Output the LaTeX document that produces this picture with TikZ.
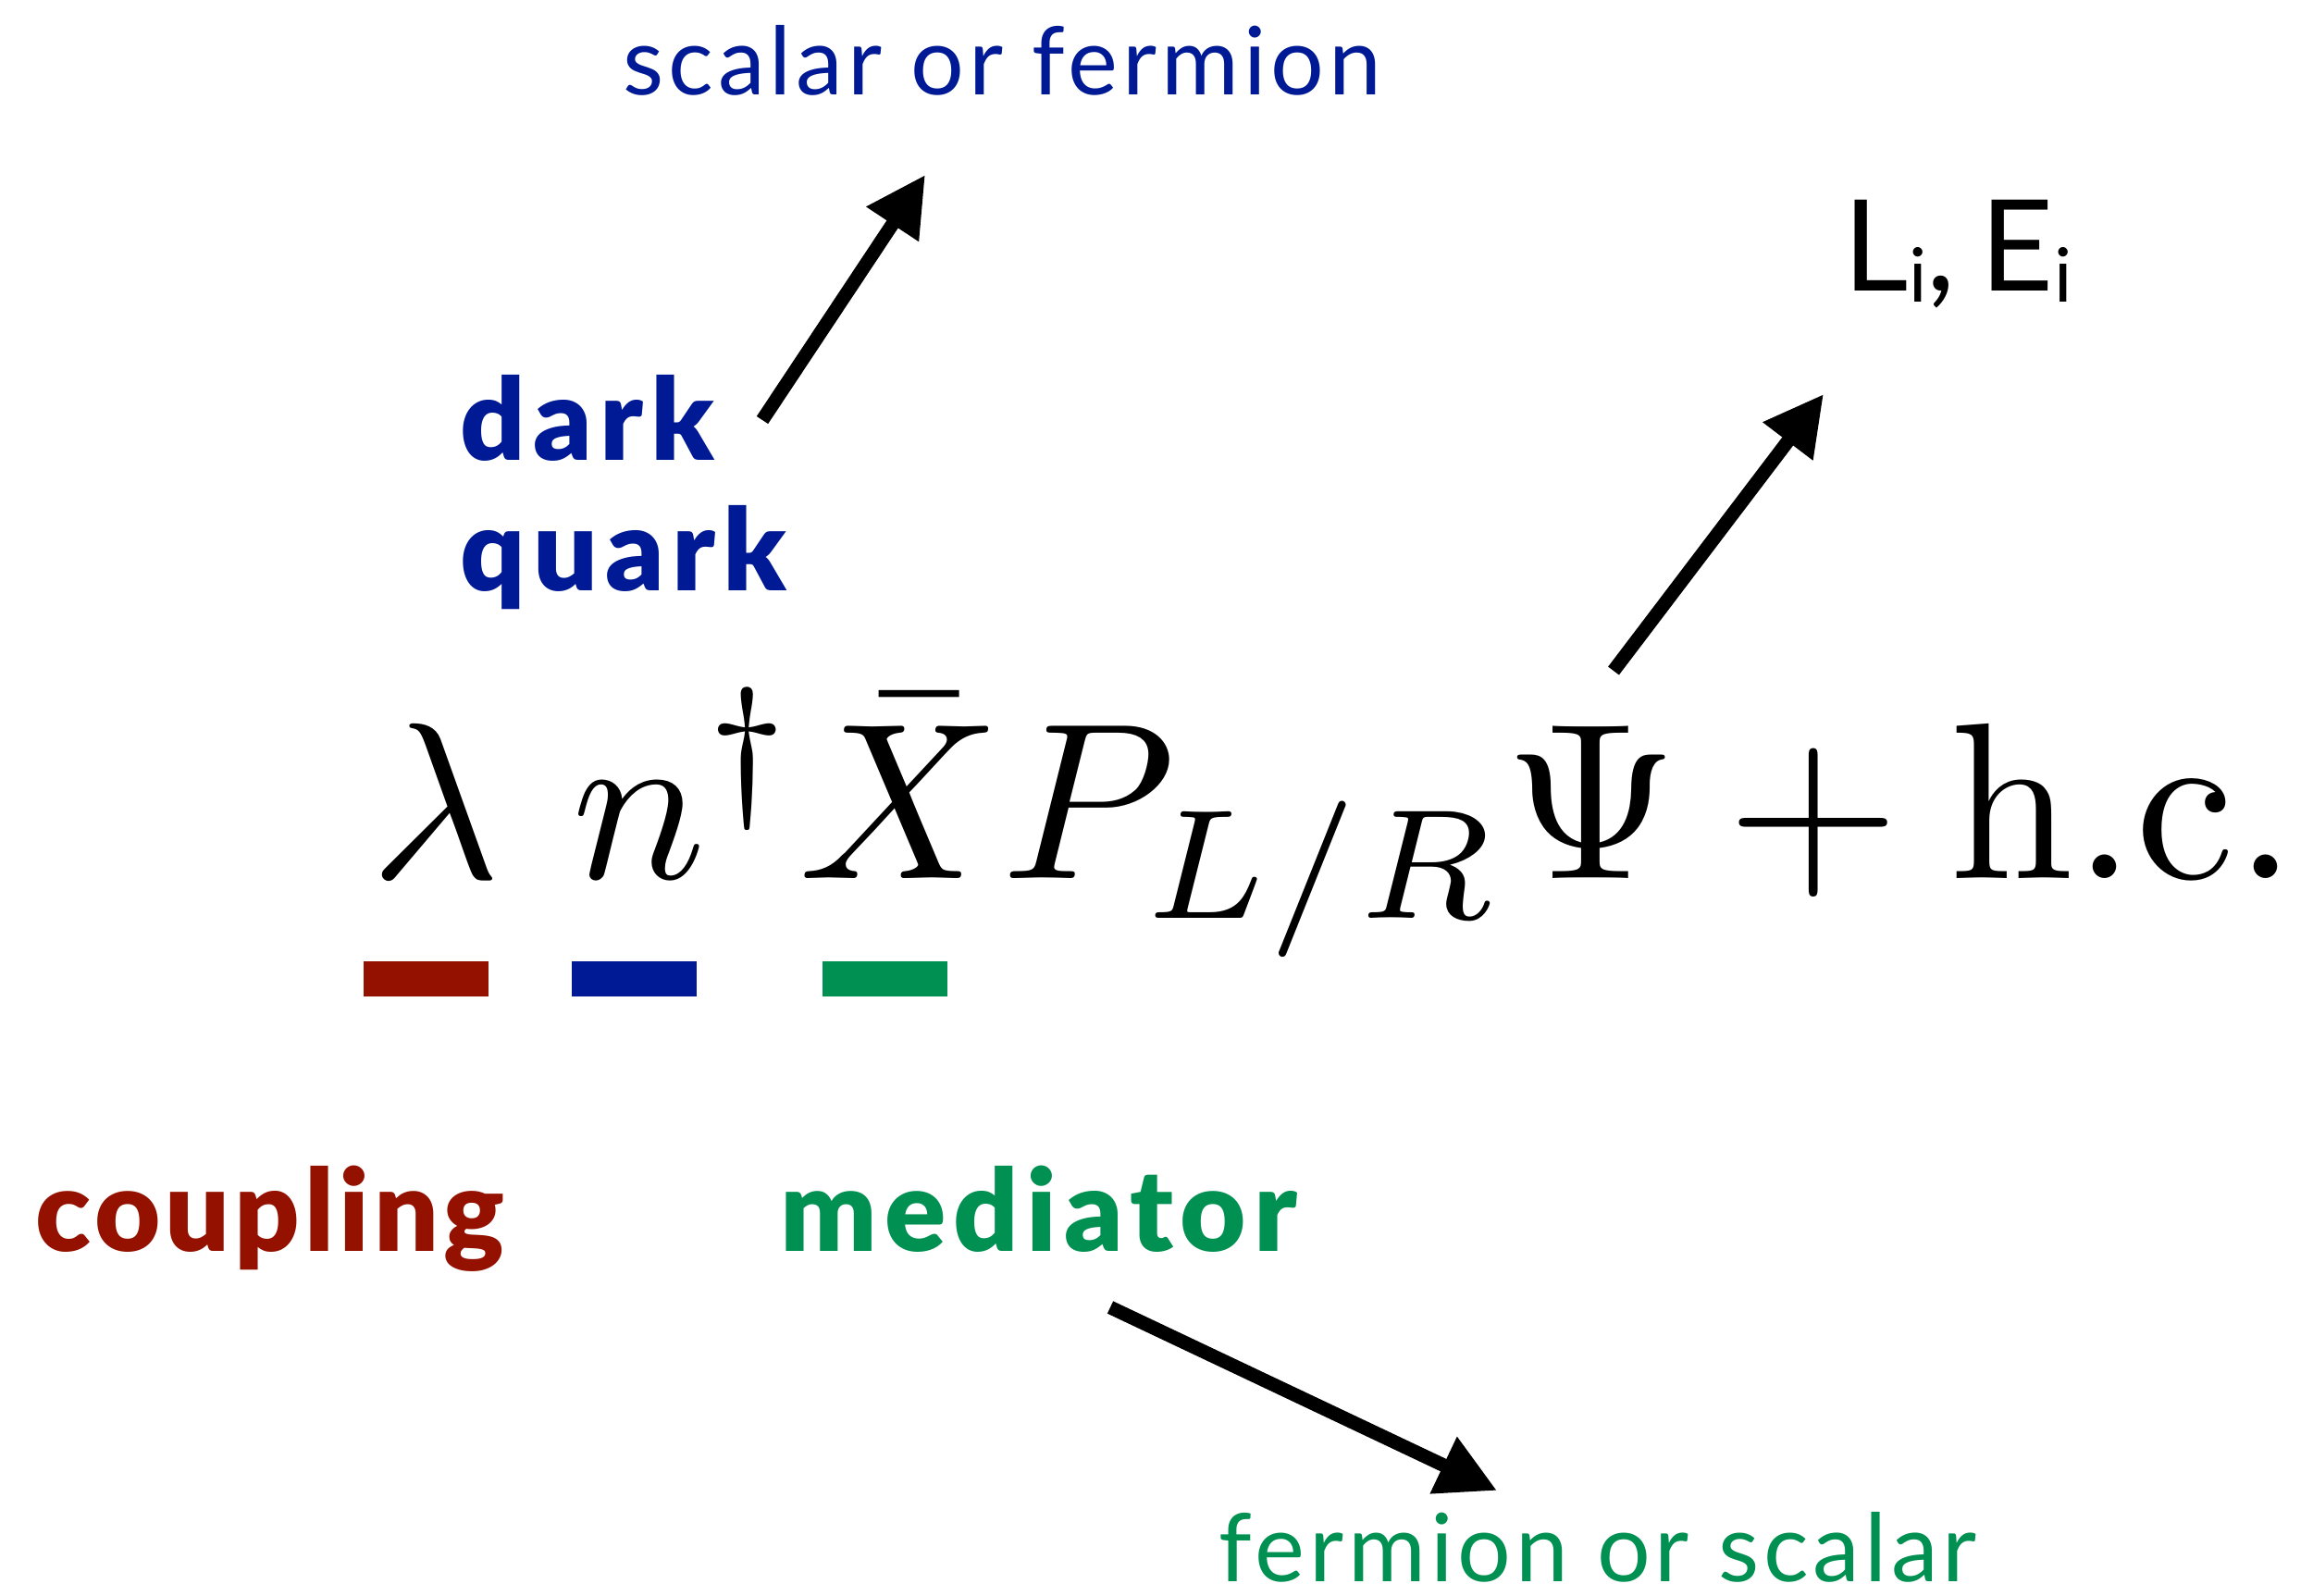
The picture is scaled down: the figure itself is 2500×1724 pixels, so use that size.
\documentclass[tikz,border=0pt]{standalone}
\usepackage[no-math]{fontspec}
\setmainfont{Lato}
\newfontfamily\blackfont{Lato Black}
\usepackage{graphicx}
\usetikzlibrary{arrows.meta}
\definecolor{dblue}{RGB}{0,25,148}
\definecolor{dred}{RGB}{148,17,0}
\definecolor{dgreen}{RGB}{0,144,81}
\tikzset{
  lbl/.style={anchor=base west, inner sep=0pt},
  thin lbl/.style={lbl, text depth=0pt, font=\fontsize{29}{31}\selectfont\addfontfeature{LetterSpace=4.8}},
  bold lbl/.style={lbl, text depth=0pt, font=\fontsize{35}{37}\selectfont\blackfont\addfontfeature{LetterSpace=6.5}},
  bigarrow/.style={line width=4.2pt, -{Triangle[length=0.64cm,width=0.64cm]}},
  bar/.style={inner sep=0pt, minimum width=1.35cm, minimum height=0.38cm, anchor=north west}
}
\begin{document}
\begin{tikzpicture}[x=0.01cm,y=-0.01cm]
\useasboundingbox (0,0) rectangle (2500,1724);
% labels
\node[thin lbl, text=dblue] (sof) at (673,102) {scalar or fermion};
\node[bold lbl, text=dblue] (dark) at (497,497) {dark};
\node[bold lbl, text=dblue] (quark) at (497,638) {quark};
\node[lbl, font=\fontsize{39}{41}\selectfont] (le) at (1992,314)
  {L\raisebox{-0.12cm}{\fontsize{23}{23}\selectfont i},\hspace{0.2em}E\raisebox{-0.12cm}{\fontsize{23}{23}\selectfont i}};
% equation
\node[lbl] (eq) at (400,949) {\resizebox{20.8cm}{!}{$\lambda\mkern5.8mu n^{\dagger}\bar{X}P_{L/R}\Psi+\mathrm{h.c.}$}};
% bars
\node[bar, fill=dred] (barr) at (392,1038) {};
\node[bar, fill=dblue] (barb) at (617,1038) {};
\node[bar, fill=dgreen] (barg) at (888,1038) {};
% lower labels
\node[bold lbl, text=dred, font=\fontsize{35}{37}\selectfont\blackfont\addfontfeature{LetterSpace=4}] (coup) at (38,1352) {coupling};
\node[bold lbl, text=dgreen] (med) at (843,1352) {mediator};
\node[thin lbl, text=dgreen] (fos) at (1317,1709) {fermion or scalar};
% arrow ends
\coordinate (a1s) at (824,454);
\coordinate (a1e) at (1000,189);
\coordinate (a2s) at (1744,725);
\coordinate (a2e) at (1971,426);
\coordinate (a3s) at (1200,1413);
\coordinate (a3e) at (1618,1611);
\draw[bigarrow] (a1s) -- (a1e);
\draw[bigarrow] (a2s) -- (a2e);
\draw[bigarrow] (a3s) -- (a3e);
\end{tikzpicture}
\end{document}
